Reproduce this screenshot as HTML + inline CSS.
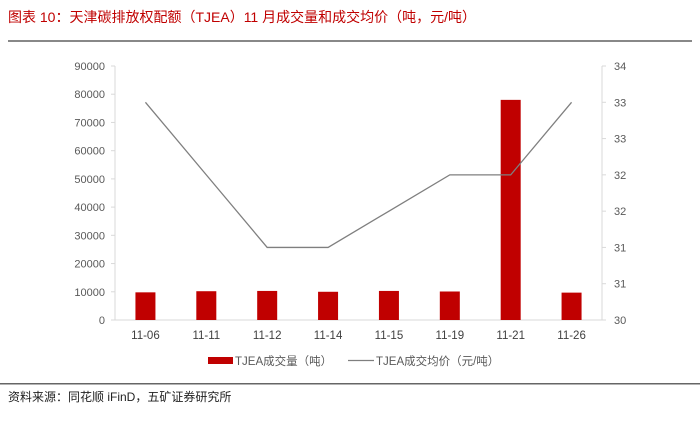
<!DOCTYPE html>
<html><head><meta charset="utf-8"><style>
body{margin:0;background:#fff;width:700px;height:420px;overflow:hidden;font-family:"Liberation Sans","Noto Sans CJK SC",sans-serif}
</style></head><body>
<svg width="700" height="420" xmlns="http://www.w3.org/2000/svg" font-family="Liberation Sans, Noto Sans CJK SC, sans-serif">
<text x="8" y="22" font-size="14" fill="#c00000">图表 10：天津碳排放权配额（TJEA）11 月成交量和成交均价（吨，元/吨）</text>
<rect x="8" y="40" width="684" height="2" fill="#888"/>
<rect x="0" y="383" width="700" height="1.5" fill="#666"/>
<text x="8" y="401" font-size="12" fill="#222">资料来源：同花顺 iFinD，五矿证券研究所</text>
<g id="chart"></g>
</svg>
<script>
const categories=["11-06","11-11","11-12","11-14","11-15","11-19","11-21","11-26"];
const volumes=[9800,10200,10300,10000,10300,10100,78000,9700];
const prices=[33,32,31,31,31.5,32,32,33];
const leftTicks=[0,10000,20000,30000,40000,50000,60000,70000,80000,90000];
const rightTicks=[30,30.5,31,31.5,32,32.5,33,33.5];
const rightLabels=["30","31","31","32","32","33","33","34"];
const NS="http://www.w3.org/2000/svg";
const g=document.getElementById('chart');
const L=115,R=602,T=66,B=320;
const band=(R-L)/categories.length;
const xC=i=>L+band*(i+0.5);
const yL=v=>B-(v/90000)*(B-T);
const yR=v=>B-((v-30)/3.5)*(B-T);
function el(t,a){const e=document.createElementNS(NS,t);for(const k in a)e.setAttribute(k,a[k]);g.appendChild(e);return e;}
const xa=el('line',{x1:L,x2:R,y1:B,y2:B,stroke:'#d9d9d9'});


const la=el('line',{x1:L,x2:L,y1:T,y2:B,stroke:'#d9d9d9'});


const ra=el('line',{x1:R,x2:R,y1:T,y2:B,stroke:'#d9d9d9'});


leftTicks.forEach(v=>{const t=el('text',{x:L-10,y:yL(v)+4,'font-size':11,'text-anchor':'end',fill:'#595959'});t.textContent=v;


el('line',{x1:L-4,x2:L,y1:yL(v),y2:yL(v),stroke:'#d9d9d9'});});
rightTicks.forEach((v,i)=>{const t=el('text',{x:R+12,y:yR(v)+4,'font-size':11,fill:'#595959'});t.textContent=rightLabels[i];


el('line',{x1:R,x2:R+4,y1:yR(v),y2:yR(v),stroke:'#d9d9d9'});});
categories.forEach((c,i)=>{
const r=el('rect',{x:xC(i)-10,y:yL(volumes[i]),width:20,height:B-yL(volumes[i]),fill:'#c00000'});


const t=el('text',{x:xC(i),y:B+19,'font-size':11.5,'text-anchor':'middle',fill:'#404040'});t.textContent=c;


});
const pl=el('polyline',{points:prices.map((p,i)=>xC(i)+','+yR(p)).join(' '),fill:'none',stroke:'#7f7f7f','stroke-width':1.3});


const lb=el('rect',{x:208,y:357,width:25,height:7,fill:'#c00000'});


const lt=el('text',{x:235,y:365,'font-size':11.5,fill:'#595959'});lt.textContent='TJEA成交量（吨）';


const ll=el('line',{x1:348,x2:374,y1:360.5,y2:360.5,stroke:'#7f7f7f','stroke-width':1.3});


const lt2=el('text',{x:376,y:365,'font-size':11.5,fill:'#595959'});lt2.textContent='TJEA成交均价（元/吨）';


</script>
</body></html>
